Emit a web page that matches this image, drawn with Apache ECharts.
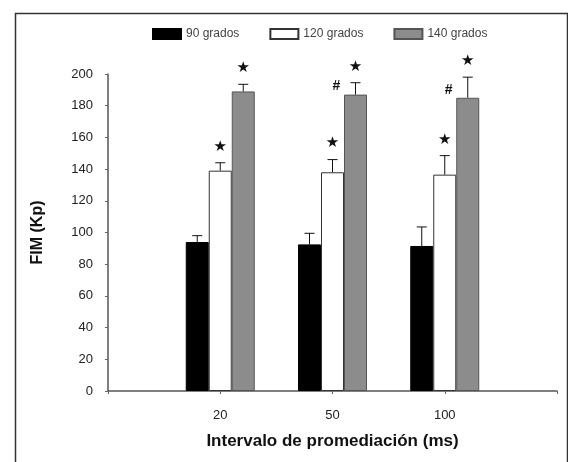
<!DOCTYPE html>
<html>
<head>
<meta charset="utf-8">
<script src="https://cdn.jsdelivr.net/npm/echarts@6/dist/echarts.min.js"></script>
<style>
  html, body { margin: 0; padding: 0; background: #fff; }
  #chart { width: 568px; height: 462px; }
</style>
</head>
<body>
<div id="chart"></div>
<script>
// Averaging interval (ms)
var categories = ['20', '50', '100'];

// Mean FIM (Kp) and upper SD for each joint angle
var mean90  = [94, 92.5, 91.5];
var sd90    = [4, 7, 12];
var mean120 = [139, 138, 136.5];
var sd120   = [5, 8, 12];
var mean140 = [189, 187, 185];
var sd140   = [4.5, 7.5, 13];

// Significance marks
var marks120 = ['★', '★', '★'];
var marks140 = ['★', '★', '★'];
var hash140  = ['', '#', '#'];

var seriesNames = ['90 grados', '120 grados', '140 grados'];
var yTicks = [0, 20, 40, 60, 80, 100, 120, 140, 160, 180, 200];

var BAR_W = 23;
var FONT = '"Liberation Sans", Arial, sans-serif';

// axis slots: an empty slot on each side of the three intervals
var axisCats = [''].concat(categories).concat(['']);
function slot(arr) { return [null].concat(arr).concat([null]); }

var means = [mean90, mean120, mean140];
var sds = [sd90, sd120, sd140];

// error-bar / annotation rows: [slot index, mean, sd, series index, category index]
var errRows = [];
for (var s = 0; s < 3; s++) {
  for (var i = 0; i < categories.length; i++) {
    errRows.push([i + 1, means[s][i], sds[s][i], s, i]);
  }
}

var chart = echarts.init(document.getElementById('chart'), null, { renderer: 'canvas' });

function renderErr(params, api) {
  var s = api.value(3);
  var ci = api.value(4);
  var base = api.coord([api.value(0), api.value(1)]);
  var top = api.coord([api.value(0), api.value(1) + api.value(2)]);
  var x = base[0] + (s - 1) * BAR_W;
  var children = [
    { type: 'line', shape: { x1: x, y1: base[1], x2: x, y2: top[1] },
      style: { stroke: '#111', lineWidth: 1 } },
    { type: 'line', shape: { x1: x - 5, y1: top[1], x2: x + 5, y2: top[1] },
      style: { stroke: '#111', lineWidth: 1 } }
  ];
  var mark = s === 1 ? marks120[ci] : (s === 2 ? marks140[ci] : '');
  if (mark) {
    children.push({ type: 'text', x: x, y: top[1] - 16,
      style: { text: mark, fontSize: 15, fontFamily: '"DejaVu Sans", sans-serif',
               fill: '#111', align: 'center', verticalAlign: 'middle' } });
  }
  if (s === 2 && hash140[ci]) {
    children.push({ type: 'text', x: x - 19, y: base[1] - 8,
      style: { text: hash140[ci], fontSize: 14, fontWeight: 'bold', fontFamily: FONT,
               fill: '#111', align: 'center', verticalAlign: 'middle' } });
  }
  return { type: 'group', children: children };
}

var option = {
  animation: false,
  backgroundColor: '#fff',
  graphic: [{
    type: 'rect', left: 13, top: 11, z: 100,
    shape: { width: 552, height: 470 },
    style: { fill: 'none', stroke: '#333', lineWidth: 1.5 }
  }],
  legend: {
    data: seriesNames,
    top: 23, left: 147,
    icon: 'rect',
    itemWidth: 28, itemHeight: 10, itemGap: 30,
    textStyle: { fontSize: 12, color: '#444', fontFamily: FONT }
  },
  grid: { left: 108, right: 11, top: 74, bottom: 71 },
  xAxis: {
    type: 'category',
    data: axisCats,
    boundaryGap: false,
    axisLine: { lineStyle: { color: '#555', width: 1.5 } },
    axisTick: { show: true, length: 3, lineStyle: { color: '#666' } },
    axisLabel: { fontSize: 13, color: '#222', margin: 18, fontFamily: FONT, interval: 0 },
    name: 'Intervalo de promediación (ms)',
    nameLocation: 'middle', nameGap: 42,
    nameTextStyle: { fontSize: 17, fontWeight: 'bold', color: '#111', fontFamily: FONT }
  },
  yAxis: {
    type: 'value', min: yTicks[0], max: yTicks[yTicks.length - 1], interval: yTicks[1] - yTicks[0],
    splitLine: { show: false },
    axisLine: { show: true, lineStyle: { color: '#555', width: 1.5 } },
    axisTick: { show: true, length: 3, lineStyle: { color: '#666' } },
    axisLabel: { fontSize: 13, color: '#222', margin: 15, fontFamily: FONT },
    name: 'FIM (Kp)',
    nameLocation: 'middle', nameGap: 62, nameRotate: 90,
    nameTextStyle: { fontSize: 16, fontWeight: 'bold', color: '#111', fontFamily: FONT }
  },
  series: [
    { name: seriesNames[0], type: 'bar', data: slot(mean90), barWidth: BAR_W, barGap: '0%',
      itemStyle: { color: '#000', borderColor: '#000', borderWidth: 1 } },
    { name: seriesNames[1], type: 'bar', data: slot(mean120), barWidth: BAR_W, barGap: '0%',
      itemStyle: { color: '#fff', borderColor: '#333', borderWidth: 1 } },
    { name: seriesNames[2], type: 'bar', data: slot(mean140), barWidth: BAR_W, barGap: '0%',
      itemStyle: { color: '#8c8c8c', borderColor: '#555', borderWidth: 1 } },
    { type: 'custom', renderItem: renderErr, data: errRows, z: 10,
      encode: { x: 0, y: 1 }, silent: true, clip: false }
  ]
};

chart.setOption(option);
</script>
</body>
</html>
